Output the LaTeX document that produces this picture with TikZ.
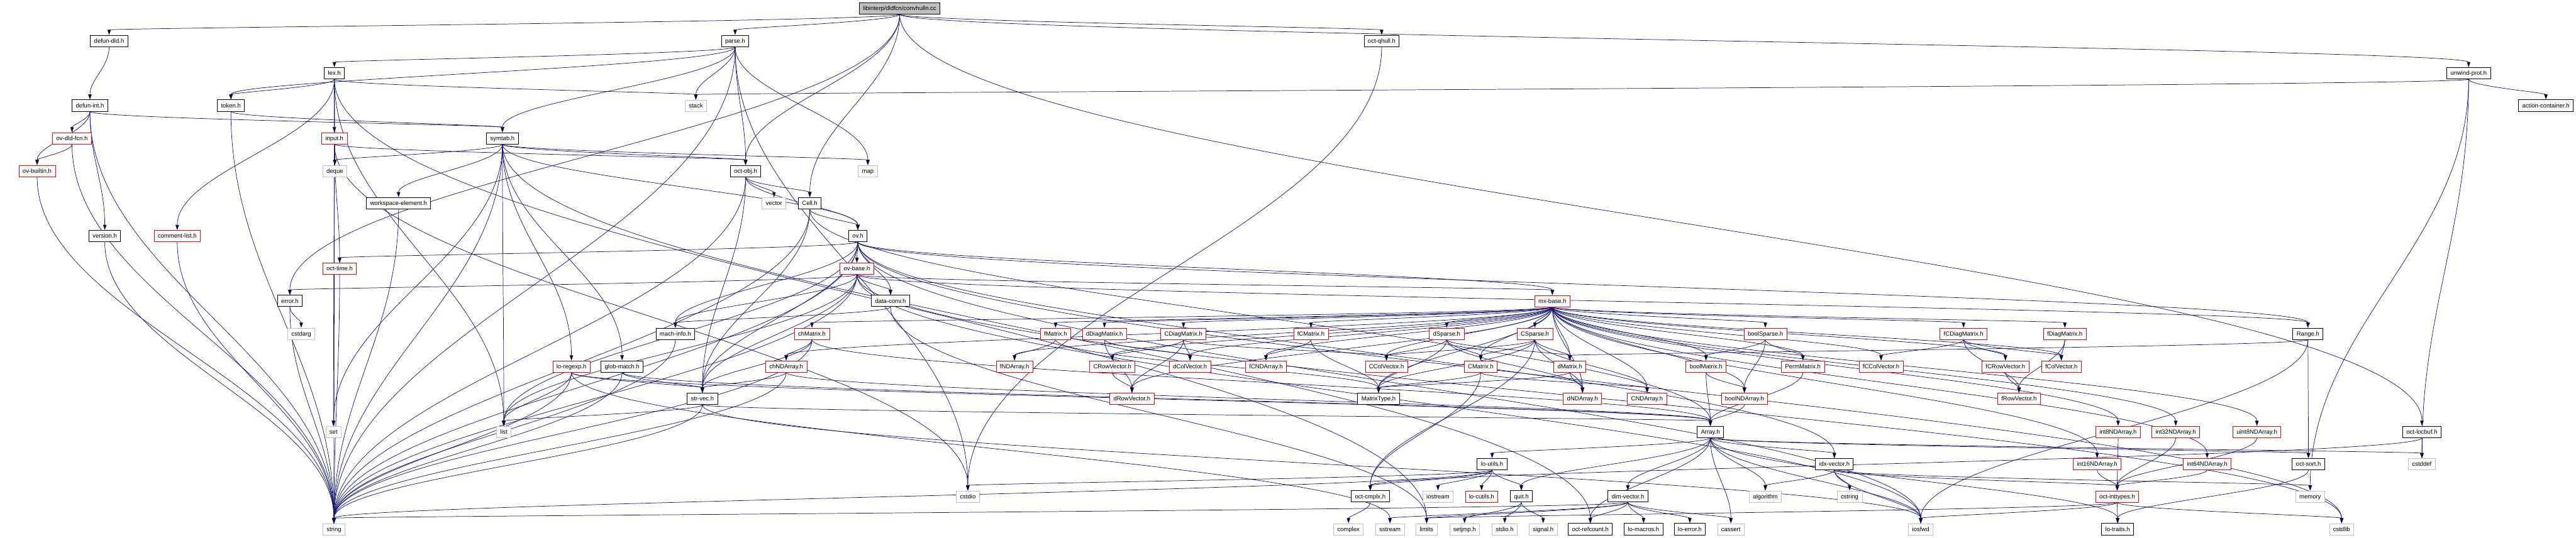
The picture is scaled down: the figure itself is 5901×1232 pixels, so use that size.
\documentclass[tikz,border=0pt]{standalone}
\usepackage{fontspec}
\setmainfont{Liberation Sans}
\usetikzlibrary{arrows.meta, backgrounds, calc}
\definecolor{edgeblue}{RGB}{25,25,112}

\begin{document}
\begin{tikzpicture}[x=0.02cm, y=-0.02cm,
  hdrbox/.style={draw=black, line width=0.8pt, fill=white, minimum height=0.52cm,
    inner xsep=0.17cm, inner ysep=0pt, text height=0.72em, text depth=0.2em,
    font=\fontsize{7.8}{9}\selectfont},
  partbox/.style={hdrbox, draw=red, line width=0.6pt},
  sysbox/.style={hdrbox, draw=gray!50, line width=0.6pt},
  rootbox/.style={hdrbox, fill=gray!50},
  inc/.style={draw=edgeblue, line width=0.6pt, -{Triangle[length=0.24cm,width=0.16cm]},
    to path={let \p1=(\tikztostart), \p2=(\tikztotarget),
      \p3=($(\p1)!0.4!(\p2)$), \p4=($(\p1)!0.6!(\p2)$) in
      (\tikztostart) .. controls (\x1,\y3) and (\x2,\y4) .. (\tikztotarget) \tikztonodes}}]
  % picture frame
  \useasboundingbox (0,0) rectangle (5901,1232);
  % the source file
  \node[rootbox] (conv) at (2061,19) {libinterp/dldfcn/convhulln.cc};
  % interpreter headers
  \node[hdrbox] (defdld) at (250,94) {defun-dld.h};
  \node[hdrbox] (parse) at (1684,94) {parse.h};
  \node[hdrbox] (qhull) at (3165,94) {oct-qhull.h};
  \node[hdrbox] (lex) at (766,168) {lex.h};
  \node[hdrbox] (unwind) at (5655,168) {unwind-prot.h};
  \node[hdrbox] (defint) at (206,242) {defun-int.h};
  \node[hdrbox] (token) at (529,242) {token.h};
  \node[sysbox] (stack) at (1594,242) {stack};
  \node[hdrbox] (action) at (5832,242) {action-container.h};
  \node[partbox] (dldfcn) at (165,317) {ov-dld-fcn.h};
  \node[partbox] (input) at (766,317) {input.h};
  \node[hdrbox] (symtab) at (1151,317) {symtab.h};
  \node[partbox] (builtin) at (85,392) {ov-builtin.h};
  \node[sysbox] (deque) at (767,392) {deque};
  \node[hdrbox] (octobj) at (1708,392) {oct-obj.h};
  \node[sysbox] (map) at (1988,392) {map};
  \node[hdrbox] (wselem) at (913,466) {workspace-element.h};
  \node[sysbox] (vector) at (1773,466) {vector};
  \node[hdrbox] (cell) at (1855,466) {Cell.h};
  \node[hdrbox] (version) at (240,541) {version.h};
  \node[partbox] (comment) at (406,541) {comment-list.h};
  \node[hdrbox] (ov) at (1965,541) {ov.h};
  \node[partbox] (octtime) at (778,616) {oct-time.h};
  \node[partbox] (ovbase) at (1963,616) {ov-base.h};
  \node[hdrbox] (error) at (664,690) {error.h};
  \node[hdrbox] (dataconv) at (2040,690) {data-conv.h};
  \node[partbox] (mxbase) at (3556,690) {mx-base.h};
  \node[sysbox] (cstdarg) at (690,765) {cstdarg};
  \node[hdrbox] (machinfo) at (1547,765) {mach-info.h};
  % matrix headers
  \node[partbox] (chMatrix) at (1860,765) {chMatrix.h};
  \node[partbox] (fMatrix) at (2418,765) {fMatrix.h};
  \node[partbox] (dDiag) at (2530,765) {dDiagMatrix.h};
  \node[partbox] (CDiag) at (2711,765) {CDiagMatrix.h};
  \node[partbox] (fCMatrix) at (3003,765) {fCMatrix.h};
  \node[partbox] (dSparse) at (3314,765) {dSparse.h};
  \node[partbox] (CSparse) at (3516,765) {CSparse.h};
  \node[partbox] (boolSparse) at (4044,765) {boolSparse.h};
  \node[partbox] (fCDiag) at (4498,765) {fCDiagMatrix.h};
  \node[partbox] (fDiag) at (4730,765) {fDiagMatrix.h};
  \node[hdrbox] (Range) at (5287,765) {Range.h};
  \node[partbox] (regexp) at (1309,840) {lo-regexp.h};
  \node[hdrbox] (glob) at (1425,840) {glob-match.h};
  \node[partbox] (chND) at (1801,840) {chNDArray.h};
  \node[partbox] (fND) at (2324,840) {fNDArray.h};
  \node[partbox] (CRowVec) at (2548,840) {CRowVector.h};
  \node[partbox] (dColVec) at (2726,840) {dColVector.h};
  \node[partbox] (fCND) at (2900,840) {fCNDArray.h};
  \node[partbox] (CColVec) at (3176,840) {CColVector.h};
  \node[partbox] (CMatrix) at (3392,840) {CMatrix.h};
  \node[partbox] (dMatrix) at (3596,840) {dMatrix.h};
  \node[partbox] (boolMatrix) at (3908,840) {boolMatrix.h};
  \node[partbox] (Perm) at (4130,840) {PermMatrix.h};
  \node[partbox] (fCColVec) at (4309,840) {fCColVector.h};
  \node[partbox] (fCRowVec) at (4594,840) {fCRowVector.h};
  \node[partbox] (fColVec) at (4722,840) {fColVector.h};
  \node[hdrbox] (strvec) at (1609,914) {str-vec.h};
  \node[partbox] (dRowVec) at (2593,914) {dRowVector.h};
  \node[hdrbox] (MType) at (3158,914) {MatrixType.h};
  \node[partbox] (dND) at (3625,914) {dNDArray.h};
  \node[partbox] (CND) at (3773,914) {CNDArray.h};
  \node[partbox] (boolND) at (3996,914) {boolNDArray.h};
  \node[partbox] (fRowVec) at (4625,914) {fRowVector.h};
  % array and utility headers
  \node[sysbox] (set) at (764,990) {set};
  \node[sysbox] (list) at (1154,990) {list};
  \node[hdrbox] (Array) at (3918,990) {Array.h};
  \node[partbox] (int8) at (4852,990) {int8NDArray.h};
  \node[partbox] (int32) at (4984,990) {int32NDArray.h};
  \node[partbox] (uint8) at (5170,990) {uint8NDArray.h};
  \node[hdrbox] (locbuf) at (5548,990) {oct-locbuf.h};
  \node[hdrbox] (loutils) at (3418,1064) {lo-utils.h};
  \node[hdrbox] (idxvec) at (4202,1064) {idx-vector.h};
  \node[partbox] (int16) at (4804,1064) {int16NDArray.h};
  \node[partbox] (int64) at (5056,1064) {int64NDArray.h};
  \node[hdrbox] (octsort) at (5288,1064) {oct-sort.h};
  \node[sysbox] (cstddef) at (5548,1064) {cstddef};
  \node[sysbox] (cstdio) at (2217,1138) {cstdio};
  \node[hdrbox] (cmplx) at (3139,1138) {oct-cmplx.h};
  \node[sysbox] (iostream) at (3294,1138) {iostream};
  \node[partbox] (locutils) at (3394,1138) {lo-cutils.h};
  \node[hdrbox] (quit) at (3485,1138) {quit.h};
  \node[hdrbox] (dimvec) at (3729,1138) {dim-vector.h};
  \node[sysbox] (algorithm) at (4044,1138) {algorithm};
  \node[sysbox] (cstring) at (4237,1138) {cstring};
  \node[partbox] (inttypes) at (4850,1138) {oct-inttypes.h};
  \node[sysbox] (memory) at (5292,1138) {memory};
  % bottom row
  \node[sysbox] (string) at (765,1213) {string};
  \node[sysbox] (complex) at (3089,1213) {complex};
  \node[sysbox] (sstream) at (3184,1213) {sstream};
  \node[sysbox] (limits) at (3268,1213) {limits};
  \node[sysbox] (setjmp) at (3355,1213) {setjmp.h};
  \node[sysbox] (stdio) at (3447,1213) {stdio.h};
  \node[sysbox] (signal) at (3535,1213) {signal.h};
  \node[hdrbox] (refcount) at (3643,1213) {oct-refcount.h};
  \node[hdrbox] (macros) at (3765,1213) {lo-macros.h};
  \node[hdrbox] (loerror) at (3871,1213) {lo-error.h};
  \node[sysbox] (cassert) at (3965,1213) {cassert};
  \node[sysbox] (iosfwd) at (4400,1213) {iosfwd};
  \node[hdrbox] (traits) at (4851,1213) {lo-traits.h};
  \node[sysbox] (cstdlib) at (5364,1213) {cstdlib};

  % include edges, behind the boxes
  \begin{scope}[on background layer]
    \path[inc] (conv) edge (defdld) edge (parse) edge (qhull) edge (unwind)
      edge (error) edge (octobj) edge (cell) edge (locbuf);
    \path[inc] (defdld) edge (defint);
    \path[inc] (parse) edge (lex) edge (token) edge (stack) edge (symtab)
      edge (octobj) edge (map) edge (string) edge (cstdio);
    \path[inc] (qhull) edge (cstdio);
    \path[inc] (lex) edge (token) edge (input) edge (deque) edge (comment)
      edge (list) edge (stack) edge (set) edge (limits);
    \path[inc] (defint) edge (dldfcn) edge (builtin) edge (version)
      edge (string) edge (symtab);
    \path[inc] (token) edge (string) edge (symtab);
    \path[inc] (dldfcn) edge (builtin) edge (string);
    \path[inc] (builtin) edge (string);
    \path[inc] (input) edge (octtime) edge (string) edge (octobj) edge (cstdio);
    \path[inc] (symtab) edge (deque) edge (list) edge (map) edge (set)
      edge (string) edge (glob) edge (regexp) edge (octobj) edge (wselem)
      edge (refcount) edge (ov);
    \path[inc] (wselem) edge (string);
    \path[inc] (version) edge (string);
    \path[inc] (comment) edge (string);
    \path[inc] (octtime) edge (string);
    \path[inc] (error) edge (cstdarg) edge (string);
    \path[inc] (octobj) edge (string) edge (vector) edge (strvec) edge (cell)
      edge (ov);
    \path[inc] (cell) edge (Array) edge (ov) edge (strvec) edge (string);
    \path[inc] (ov) edge (ovbase) edge (mxbase) edge (Range) edge (dataconv)
      edge (idxvec) edge (machinfo) edge (octtime) edge (strvec) edge (string)
      edge (list) edge (iosfwd) edge (cstdlib);
    \path[inc] (ovbase) edge (error) edge (list) edge (strvec) edge (dataconv)
      edge (mxbase) edge (Range) edge (cstdlib) edge (iosfwd) edge (string)
      edge (machinfo);
    \path[inc] (dataconv) edge (machinfo) edge (limits);
    \path[inc] (machinfo) edge (string);
    \path[inc] (chMatrix) edge (chND) edge (strvec) edge (string) edge (Array);
    \path[inc] (chND) edge (strvec) edge (string) edge (Array);
    \path[inc] (regexp) edge (list) edge (strvec) edge (string) edge (sstream)
      edge (Array);
    \path[inc] (glob) edge (strvec) edge (string) edge (Array);
    \path[inc] (strvec) edge (list) edge (string) edge (Array) edge (iosfwd);
    \path[inc] (mxbase) edge (chMatrix) edge (chND) edge (fMatrix) edge (dDiag)
      edge (CDiag) edge (fCMatrix) edge (dSparse) edge (CSparse)
      edge (boolSparse) edge (fCDiag) edge (fDiag) edge (fND) edge (CRowVec)
      edge (dColVec) edge (fCND) edge (CColVec) edge (CMatrix) edge (dMatrix)
      edge (boolMatrix) edge (Perm) edge (fCColVec) edge (fCRowVec)
      edge (fColVec) edge (dRowVec) edge (MType) edge (dND) edge (CND)
      edge (boolND) edge (int8) edge (int16) edge (int32) edge (int64)
      edge (uint8);
    \path[inc] (fMatrix) edge (fND) edge (MType);
    \path[inc] (dDiag) edge (dRowVec) edge (dColVec);
    \path[inc] (CDiag) edge (CRowVec) edge (dColVec) edge (dRowVec)
      edge (CColVec);
    \path[inc] (CRowVec) edge (dRowVec);
    \path[inc] (fCMatrix) edge (fCND) edge (MType);
    \path[inc] (dSparse) edge (CColVec) edge (MType) edge (CMatrix)
      edge (dMatrix) edge (dND);
    \path[inc] (CSparse) edge (CColVec) edge (CMatrix) edge (dMatrix)
      edge (CND) edge (dND) edge (MType) edge (cmplx);
    \path[inc] (CMatrix) edge (MType) edge (cmplx) edge (CND);
    \path[inc] (dMatrix) edge (dND) edge (MType);
    \path[inc] (boolMatrix) edge (boolND) edge (Array);
    \path[inc] (boolND) edge (Array);
    \path[inc] (boolSparse) edge (boolND) edge (Perm) edge (boolMatrix);
    \path[inc] (Perm) edge (Array);
    \path[inc] (fCDiag) edge (fCColVec) edge (fCRowVec) edge (fColVec)
      edge (fRowVec);
    \path[inc] (fDiag) edge (fColVec) edge (fRowVec);
    \path[inc] (fCRowVec) edge (fRowVec);
    \path[inc] (int8) edge (inttypes);
    \path[inc] (int16) edge (inttypes);
    \path[inc] (int32) edge (inttypes);
    \path[inc] (int64) edge (inttypes);
    \path[inc] (uint8) edge (inttypes);
    \path[inc] (Range) edge (octsort) edge (dMatrix) edge (iosfwd);
    \path[inc] (locbuf) edge (cstddef) edge (cmplx);
    \path[inc] (unwind) edge (action) edge (stack) edge (cstddef) edge (memory);
    \path[inc] (Array) edge (loutils) edge (quit) edge (refcount) edge (dimvec)
      edge (cassert) edge (idxvec) edge (octsort) edge (traits)
      edge (algorithm) edge (cstddef) edge (iosfwd);
    \path[inc] (dimvec) edge (refcount) edge (macros) edge (loerror)
      edge (cassert) edge (sstream) edge (limits) edge (string);
    \path[inc] (loutils) edge (cmplx) edge (iostream) edge (locutils)
      edge (quit) edge (cstdio) edge (string);
    \path[inc] (quit) edge (setjmp) edge (stdio) edge (signal);
    \path[inc] (cmplx) edge (complex);
    \path[inc] (idxvec) edge (algorithm) edge (cstring) edge (iosfwd)
      edge (inttypes) edge (memory);
    \path[inc] (inttypes) edge (traits) edge (iosfwd) edge (cstdlib)
      edge (limits);
    \path[inc] (octsort) edge (traits);
  \end{scope}
\end{tikzpicture}
\end{document}
